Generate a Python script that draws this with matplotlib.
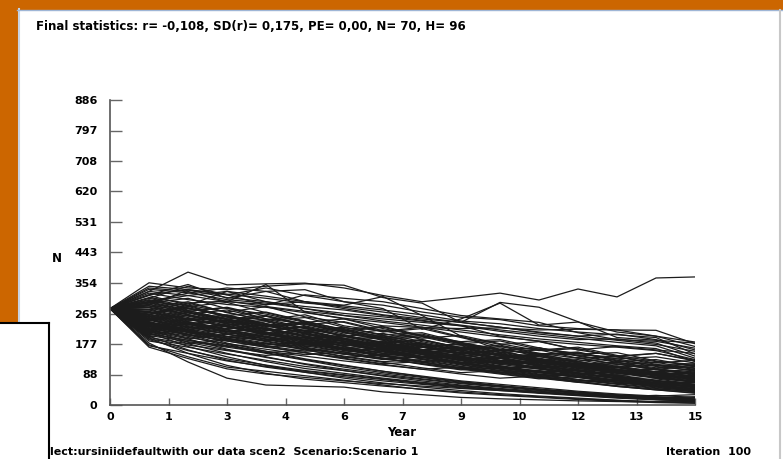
import matplotlib
matplotlib.use("Agg")
import matplotlib.pyplot as plt
from matplotlib.patches import Rectangle
from matplotlib.lines import Line2D

# simulated population trajectories (N per year), 100 iterations
years = list(range(16))
runs = [
    # upper outliers
    [280, 330, 386, 349, 352, 354, 340, 318, 300, 312, 325, 305, 337, 314, 369, 372],
    [280, 355, 340, 335, 345, 352, 348, 312, 296, 240, 298, 284, 242, 196, 188, 180],
    [280, 300, 325, 340, 330, 335, 300, 280, 220, 250, 296, 232, 241, 212, 200, 183],
    [280, 320, 350, 310, 330, 300, 290, 315, 260, 200, 160, 150, 145, 140, 150, 130],
    [280, 340, 330, 300, 350, 270, 250, 230, 225, 222, 224, 218, 220, 218, 217, 178],
    [280, 310, 345, 320, 290, 320, 310, 300, 280, 260, 250, 240, 210, 190, 185, 165],
    [280, 300, 290, 330, 300, 280, 260, 250, 240, 230, 200, 185, 160, 170, 160, 150],
    [280, 330, 318, 300, 292, 300, 280, 262, 250, 240, 226, 210, 200, 206, 190, 160],
    [280, 345, 335, 320, 340, 318, 300, 290, 270, 255, 248, 230, 222, 218, 200, 170],
    [280, 320, 335, 322, 310, 296, 288, 276, 262, 244, 236, 222, 212, 204, 196, 148],
    [280, 300, 318, 330, 316, 300, 284, 270, 254, 240, 226, 212, 200, 188, 176, 156],
    [280, 336, 326, 306, 296, 280, 266, 256, 244, 230, 214, 200, 190, 192, 180, 142],
    [280, 290, 334, 312, 300, 286, 276, 260, 246, 232, 218, 206, 194, 182, 172, 136],
    [280, 325, 306, 292, 284, 268, 252, 240, 226, 212, 198, 186, 176, 168, 158, 132],
    [280, 312, 296, 302, 286, 272, 260, 244, 232, 218, 204, 192, 182, 172, 164, 126],
    # main band
    [280, 262, 290, 255, 248, 262, 230, 214, 226, 198, 176, 184, 160, 142, 150, 128],
    [280, 240, 218, 236, 210, 190, 204, 178, 160, 168, 146, 130, 138, 118, 104, 112],
    [280, 300, 276, 282, 250, 236, 214, 226, 200, 178, 186, 162, 150, 134, 140, 122],
    [280, 226, 250, 228, 204, 216, 190, 168, 176, 150, 138, 146, 122, 110, 96, 104],
    [280, 318, 290, 270, 286, 256, 240, 212, 222, 196, 170, 160, 168, 144, 126, 118],
    [280, 254, 232, 246, 220, 200, 184, 196, 168, 150, 158, 132, 118, 124, 104, 92],
    [280, 212, 236, 214, 196, 178, 190, 164, 148, 154, 130, 116, 122, 100, 92, 84],
    [280, 288, 262, 240, 258, 230, 206, 218, 190, 166, 174, 150, 136, 140, 118, 108],
    [280, 246, 268, 240, 218, 228, 200, 182, 160, 172, 148, 130, 112, 120, 102, 90],
    [280, 230, 206, 220, 198, 176, 162, 172, 146, 130, 136, 112, 98, 104, 86, 76],
    [280, 276, 250, 262, 236, 214, 222, 196, 176, 160, 166, 140, 126, 110, 116, 98],
    [280, 204, 222, 200, 186, 196, 170, 150, 158, 134, 118, 124, 102, 90, 96, 80],
    [280, 296, 310, 280, 264, 240, 250, 222, 200, 184, 190, 166, 148, 152, 128, 114],
    [280, 238, 214, 230, 206, 188, 166, 176, 150, 136, 120, 128, 106, 94, 80, 86],
    [280, 262, 240, 220, 232, 206, 186, 164, 172, 146, 130, 114, 120, 98, 86, 74],
    [280, 218, 200, 214, 190, 170, 178, 154, 136, 142, 118, 104, 90, 96, 78, 68],
    [280, 284, 300, 268, 246, 254, 226, 204, 210, 182, 160, 148, 154, 130, 116, 104],
    [280, 250, 226, 206, 218, 194, 172, 180, 154, 138, 124, 130, 106, 92, 98, 82],
    [280, 232, 252, 226, 204, 186, 194, 168, 150, 132, 140, 116, 100, 86, 92, 72],
    [280, 198, 216, 194, 174, 182, 160, 140, 146, 124, 108, 94, 100, 82, 70, 64],
    [280, 270, 246, 258, 232, 208, 190, 198, 172, 152, 136, 142, 118, 102, 88, 94],
    [280, 244, 262, 236, 212, 194, 200, 174, 154, 160, 136, 118, 104, 110, 90, 78],
    [280, 222, 204, 188, 200, 178, 158, 164, 140, 124, 108, 114, 92, 80, 68, 60],
    [280, 306, 282, 260, 270, 244, 218, 198, 206, 180, 162, 146, 152, 128, 112, 100],
    [280, 258, 236, 248, 222, 200, 176, 184, 160, 140, 122, 108, 114, 94, 80, 70],
    [280, 214, 192, 206, 184, 166, 148, 156, 134, 116, 100, 106, 86, 72, 62, 66],
    [280, 292, 268, 248, 226, 236, 212, 190, 170, 178, 154, 136, 118, 124, 104, 96],
    [280, 236, 214, 194, 206, 182, 162, 144, 150, 128, 112, 96, 102, 84, 72, 58],
    [280, 264, 282, 256, 230, 210, 218, 192, 170, 150, 158, 134, 116, 100, 106, 88],
    [280, 208, 188, 170, 180, 160, 142, 126, 132, 112, 96, 84, 88, 72, 60, 52],
    [280, 278, 254, 232, 242, 216, 192, 172, 180, 156, 136, 120, 126, 104, 88, 76],
    [280, 242, 220, 232, 208, 186, 164, 146, 152, 130, 112, 96, 82, 88, 70, 56],
    [280, 226, 242, 218, 196, 176, 184, 160, 140, 122, 128, 106, 90, 76, 64, 54],
    [280, 310, 286, 298, 268, 242, 220, 228, 202, 180, 160, 166, 142, 124, 108, 116],
    [280, 250, 270, 244, 220, 198, 178, 186, 162, 142, 124, 108, 114, 94, 78, 66],
    [280, 196, 178, 190, 170, 152, 136, 120, 126, 106, 92, 78, 66, 70, 56, 46],
    [280, 272, 250, 228, 208, 218, 194, 172, 152, 160, 136, 116, 100, 86, 92, 74],
    [280, 234, 212, 192, 174, 184, 162, 142, 124, 108, 114, 94, 80, 66, 56, 48],
    [280, 288, 264, 276, 250, 224, 200, 180, 188, 164, 142, 124, 108, 114, 96, 84],
    [280, 220, 238, 214, 192, 172, 154, 162, 140, 120, 104, 88, 94, 76, 62, 50],
    [280, 256, 234, 214, 224, 200, 178, 158, 140, 148, 126, 108, 92, 78, 84, 68],
    [280, 202, 184, 168, 152, 160, 140, 124, 108, 94, 100, 82, 68, 56, 46, 40],
    [280, 268, 286, 260, 236, 214, 194, 202, 178, 156, 136, 144, 122, 104, 90, 96],
    [280, 240, 218, 198, 210, 186, 164, 144, 126, 132, 110, 94, 80, 66, 54, 44],
    [280, 228, 206, 186, 168, 176, 154, 136, 118, 102, 108, 90, 74, 62, 50, 42],
    [280, 298, 274, 250, 260, 234, 210, 188, 168, 176, 152, 132, 114, 98, 104, 86],
    [280, 246, 224, 236, 212, 190, 170, 150, 156, 134, 114, 98, 84, 70, 76, 60],
    [280, 210, 228, 206, 186, 168, 150, 134, 140, 118, 100, 86, 72, 60, 48, 38],
    [280, 282, 258, 236, 216, 226, 202, 180, 160, 142, 150, 128, 110, 94, 80, 86],
    [280, 232, 210, 190, 172, 156, 164, 142, 124, 108, 94, 100, 82, 66, 54, 42],
    [280, 264, 242, 222, 234, 208, 186, 166, 148, 130, 136, 116, 98, 82, 70, 58],
    [280, 192, 174, 158, 144, 152, 134, 118, 104, 90, 78, 84, 68, 54, 44, 34],
    [280, 276, 296, 270, 244, 222, 202, 182, 190, 166, 144, 124, 132, 112, 96, 82],
    [280, 248, 226, 206, 188, 198, 176, 156, 138, 122, 106, 112, 94, 78, 64, 52],
    [280, 216, 196, 178, 162, 146, 154, 136, 120, 104, 90, 76, 82, 66, 52, 40],
    [280, 304, 280, 258, 236, 216, 226, 202, 180, 160, 142, 148, 126, 108, 92, 78],
    [280, 252, 230, 210, 192, 174, 182, 160, 142, 124, 108, 94, 100, 84, 70, 56],
    [280, 224, 204, 186, 168, 152, 138, 146, 128, 112, 96, 82, 70, 74, 60, 46],
    [280, 270, 248, 228, 208, 190, 172, 180, 160, 140, 122, 106, 92, 96, 80, 66],
    [280, 238, 216, 198, 180, 164, 148, 132, 140, 122, 104, 88, 74, 62, 66, 52],
    [280, 292, 270, 250, 230, 210, 192, 174, 158, 166, 146, 126, 110, 94, 80, 68],
    [280, 206, 188, 172, 156, 142, 128, 116, 104, 110, 94, 80, 66, 54, 44, 36],
    [280, 260, 238, 218, 200, 182, 166, 150, 134, 120, 126, 108, 92, 78, 66, 54],
    [280, 230, 212, 194, 178, 162, 148, 134, 120, 106, 94, 100, 84, 70, 58, 48],
    [280, 284, 262, 242, 222, 204, 186, 170, 154, 138, 124, 110, 116, 98, 84, 72],
    [280, 256, 274, 250, 228, 238, 212, 190, 198, 174, 152, 160, 136, 118, 124, 106],
    [280, 218, 234, 212, 224, 200, 180, 160, 168, 146, 128, 134, 114, 98, 104, 90],
    [280, 296, 272, 284, 258, 234, 242, 216, 194, 202, 178, 158, 164, 140, 122, 130],
    [280, 244, 260, 238, 246, 222, 200, 208, 184, 162, 170, 148, 128, 134, 114, 120],
    [280, 268, 244, 256, 232, 240, 216, 194, 202, 178, 158, 166, 144, 126, 132, 112],
    # lower band
    [280, 168, 135, 105, 90, 80, 70, 62, 55, 48, 42, 36, 30, 24, 18, 15],
    [280, 200, 160, 130, 110, 95, 82, 70, 60, 50, 42, 34, 27, 20, 15, 12],
    [280, 180, 125, 78, 58, 55, 52, 38, 30, 22, 18, 15, 12, 10, 9, 10],
    [280, 195, 150, 115, 92, 75, 65, 55, 46, 38, 30, 24, 18, 13, 10, 8],
    [280, 210, 170, 140, 115, 95, 78, 64, 52, 42, 33, 26, 20, 14, 9, 6],
    [280, 175, 140, 110, 98, 85, 72, 58, 45, 35, 28, 22, 16, 11, 7, 5],
    [280, 220, 182, 160, 138, 120, 104, 90, 76, 64, 54, 44, 36, 28, 22, 18],
    [280, 186, 168, 148, 130, 112, 100, 86, 74, 62, 52, 42, 34, 26, 20, 14],
    [280, 240, 200, 172, 150, 130, 110, 94, 80, 66, 56, 46, 38, 30, 24, 20],
    [280, 214, 178, 150, 126, 106, 92, 78, 66, 56, 46, 38, 30, 22, 16, 10],
    [280, 228, 192, 162, 140, 118, 100, 84, 70, 58, 48, 40, 32, 26, 20, 24],
    [280, 172, 150, 128, 112, 98, 86, 74, 62, 52, 44, 36, 28, 22, 16, 12],
    [280, 250, 212, 180, 156, 134, 116, 98, 82, 68, 56, 46, 36, 28, 22, 16],
    [280, 190, 158, 134, 116, 100, 88, 76, 64, 54, 44, 36, 30, 24, 28, 22],
    [280, 236, 204, 176, 152, 132, 114, 98, 84, 70, 60, 50, 40, 32, 26, 30],
]

xtick_pos = [0, 1.5, 3, 4.5, 6, 7.5, 9, 10.5, 12, 13.5, 15]
xtick_lab = ['0', '1', '3', '4', '6', '7', '9', '10', '12', '13', '15']
ytick_pos = [0, 88.6, 177.2, 265.8, 354.4, 443, 531.6, 620.2, 708.8, 797.4, 886]
ytick_lab = ['0', '88', '177', '265', '354', '443', '531', '620', '708', '797', '886']

title = 'Final statistics: r= -0,108, SD(r)= 0,175, PE= 0,00, N= 70, H= 96'
footer = 'lect:ursiniidefaultwith our data scen2  Scenario:Scenario 1'

W, H = 783, 459
fnt = dict(family='DejaVu Sans', weight='bold', size=8.5)
smallfnt = dict(family='DejaVu Sans', weight='bold', size=8)

def fx(x):
    return x / W

def fy(y):
    return 1 - y / H

fig = plt.figure(figsize=(W / 100, H / 100), dpi=100)
fig.patch.set_facecolor('white')

orange = '#cc6600'
# window frame pieces
fig.patches.append(Rectangle((0, fy(9)), 1, 9 / H, transform=fig.transFigure, color=orange, zorder=0))
fig.patches.append(Rectangle((0, fy(323)), fx(17), 323 / H, transform=fig.transFigure, color=orange, zorder=0))
fig.add_artist(Line2D([fx(18.5), fx(18.5)], [fy(9), fy(323)], color='#c8d4e4', lw=1.5))
fig.add_artist(Line2D([fx(17), 1], [fy(9.5), fy(9.5)], color='#9fb6d6', lw=1))
fig.add_artist(Line2D([fx(779.5), fx(779.5)], [fy(10), 0], color='#c8c8c8', lw=1.5))

ax = fig.add_axes([fx(110), fy(405), fx(695) - fx(110), (405 - 100) / H])
for r in runs:
    ax.plot(years, r, color='#1c1c1c', lw=0.9)

ax.set_xlim(0, 15)
ax.set_ylim(0, 886)
ax.set_xticks(xtick_pos)
ax.set_xticklabels(xtick_lab, **smallfnt)
ax.set_yticks(ytick_pos)
ax.set_yticklabels(ytick_lab, **smallfnt)
ax.tick_params(axis='y', direction='in', length=8.5, width=1, color='#666666', pad=9)
ax.tick_params(axis='x', direction='in', length=5, width=1, color='#666666', pad=5)
for s in ['top', 'right']:
    ax.spines[s].set_visible(False)
for s in ['left', 'bottom']:
    ax.spines[s].set_color('#555555')
    ax.spines[s].set_linewidth(1.2)

fig.text(fx(402), fy(432), 'Year', ha='center', va='center', **fnt)
fig.text(fx(57), fy(258), 'N', ha='center', va='center', **fnt)
fig.text(fx(36), fy(27), title, ha='left', va='center', **fnt)
fig.text(fx(50), fy(452), footer, ha='left', va='center', **smallfnt)
fig.text(fx(751), fy(452), 'Iteration  100', ha='right', va='center', **smallfnt)

# overlapping white panel at lower left
fig.patches.append(Rectangle((0, 0), fx(49), (459 - 323) / H, transform=fig.transFigure,
                             facecolor='white', edgecolor='none', zorder=5))
fig.add_artist(Line2D([0, fx(49)], [fy(323), fy(323)], color='black', lw=1.5, zorder=6))
fig.add_artist(Line2D([fx(49), fx(49)], [fy(323), 0], color='black', lw=1.5, zorder=6))

fig.savefig('out.png', dpi=100)
